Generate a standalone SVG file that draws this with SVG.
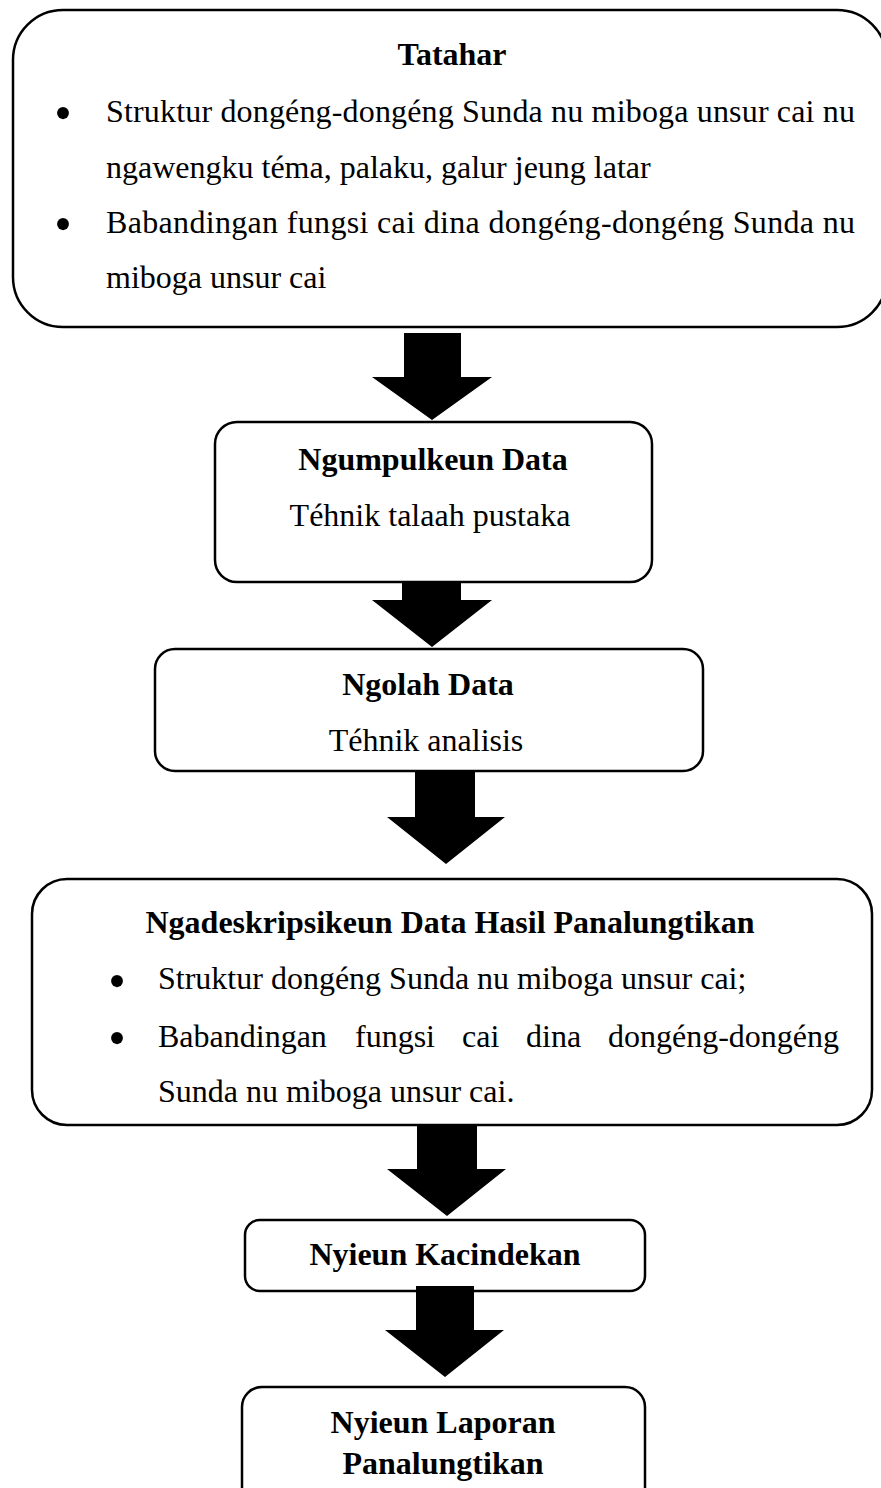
<svg xmlns="http://www.w3.org/2000/svg" width="881" height="1488" viewBox="0 0 881 1488">
<style>
.box{fill:#fff;stroke:#000;stroke-width:2.5}
.t{font-family:"Liberation Serif","Times New Roman",serif;font-size:32px;fill:#000}
.b{font-weight:bold}
.m{text-anchor:middle}
.bl{font-family:"Liberation Serif","Times New Roman",serif;font-size:50px;fill:#000;text-anchor:middle}
.arr{fill:#000;stroke:none}
</style>
<rect width="881" height="1488" fill="#fff"/>
<g id="tatahar">
<rect class="box" x="13" y="10" width="874" height="317" rx="50" ry="50"/>
<text class="t b m" x="452" y="65">Tatahar</text>
<text class="bl" x="63" y="130">•</text>
<text class="t" x="106" y="122" textLength="749" lengthAdjust="spacing">Struktur dongéng-dongéng Sunda nu miboga unsur cai nu</text>
<text class="t" x="106" y="178">ngawengku téma, palaku, galur jeung latar</text>
<text class="bl" x="63" y="241">•</text>
<text class="t" x="106" y="233" textLength="749" lengthAdjust="spacing">Babandingan fungsi cai dina dongéng-dongéng Sunda nu</text>
<text class="t" x="106" y="288">miboga unsur cai</text>
</g>
<g id="ngumpulkeun">
<rect class="box" x="215" y="422" width="437" height="160" rx="22" ry="22"/>
<text class="t b m" x="433" y="470">Ngumpulkeun Data</text>
<text class="t m" x="430" y="526">Téhnik talaah pustaka</text>
</g>
<g id="ngolah">
<rect class="box" x="155" y="649" width="548" height="122" rx="20" ry="20"/>
<text class="t b m" x="428" y="695">Ngolah Data</text>
<text class="t m" x="426" y="751">Téhnik analisis</text>
</g>
<g id="ngadeskripsikeun">
<rect class="box" x="32" y="879" width="840" height="246" rx="35" ry="35"/>
<text class="t b m" x="450" y="933">Ngadeskripsikeun Data Hasil Panalungtikan</text>
<text class="bl" x="117" y="998">•</text>
<text class="t" x="158" y="989">Struktur dongéng Sunda nu miboga unsur cai;</text>
<text class="bl" x="117" y="1055">•</text>
<text class="t" y="1047"><tspan x="158">Babandingan</tspan><tspan x="355">fungsi</tspan><tspan x="462">cai</tspan><tspan x="526">dina</tspan><tspan x="608">dongéng-dongéng</tspan></text>
<text class="t" x="158" y="1102">Sunda nu miboga unsur cai.</text>
</g>
<g id="kacindekan">
<rect class="box" x="245" y="1220" width="400" height="71" rx="15" ry="15"/>
<text class="t b m" x="445" y="1265">Nyieun Kacindekan</text>
</g>
<g id="laporan">
<rect class="box" x="242" y="1387" width="403" height="130" rx="20" ry="20"/>
<text class="t b m" x="443" y="1433">Nyieun Laporan</text>
<text class="t b m" x="443" y="1474">Panalungtikan</text>
</g>
<g id="connectors">
<polygon class="arr" points="404,333 461,333 461,377 492,377 432,420 372,377 404,377"/>
<polygon class="arr" points="402,582 461,582 461,600 492,600 432,647 372,600 402,600"/>
<polygon class="arr" points="415,771 475,771 475,817 505,817 446,864 387,817 415,817"/>
<polygon class="arr" points="417,1125 477,1125 477,1169 506,1169 447,1216 387,1169 417,1169"/>
<polygon class="arr" points="416,1286 474,1286 474,1330 504,1330 445,1377 385,1330 416,1330"/>
</g>
</svg>
